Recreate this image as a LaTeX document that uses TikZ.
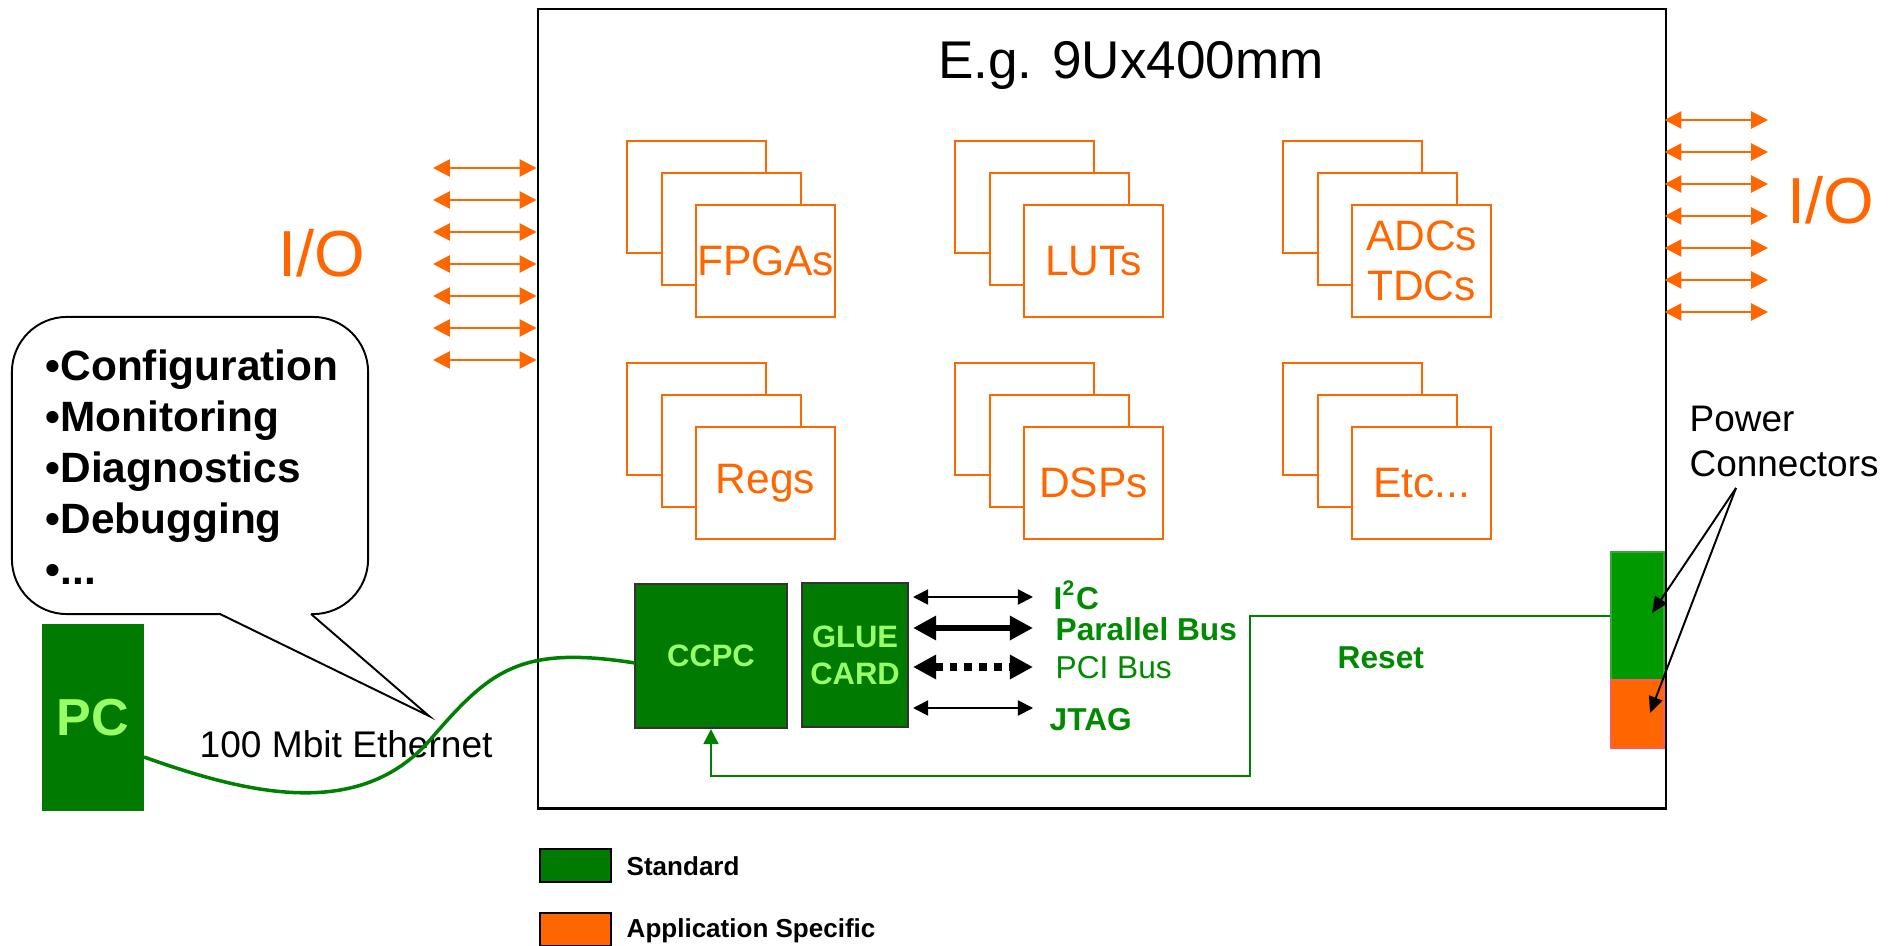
\documentclass[tikz,border=0pt]{standalone}
\usepackage{fontspec}
\setmainfont{Liberation Sans}
\usetikzlibrary{arrows.meta,calc}
\definecolor{dkgreen}{HTML}{007A00}
\definecolor{ltgreen}{HTML}{99FF66}
\definecolor{lblgreen}{HTML}{008A00}
\definecolor{pwgreen}{HTML}{009900}
\definecolor{pwedge}{HTML}{33AA33}
\definecolor{orng}{HTML}{FF6600}
\definecolor{pinkred}{HTML}{FF5A5A}
\definecolor{wiregreen}{HTML}{008000}
\newcommand{\myfs}[2]{\fontsize{#1}{#2}\selectfont}
\newcommand{\chipstack}[4]{%
  \node[chip] (#1a) at (#2,#3) {};
  \node[chip] (#1b) at (#2+34.5,#3+32) {};
  \node[chip] (#1c) at (#2+69,#3+64) {};
  \node[chiptext] (#1) at (#1c.center) {#4};
}
\begin{document}
\begin{tikzpicture}[x=0.01cm,y=-0.01cm,
  chip/.style={draw=orng, line width=0.6pt, fill=white, minimum width=1.39cm, minimum height=1.12cm, inner sep=0pt, anchor=north west},
  chiptext/.style={text=orng, font=\myfs{12.1}{14.2}, align=center, inner sep=0pt},
  ioarrow/.style={draw=orng, line width=0.8pt, <->, >={Triangle[length=4.8pt,width=4.8pt]}},
  thinbus/.style={draw=black, line width=0.5pt, <->, >={Triangle[length=4.3pt,width=4.3pt]}},
  thickbus/.style={draw=black, line width=1.7pt, <->, >={Triangle[length=6.6pt,width=6.6pt]}},
  dotbus/.style={draw=black, line width=2.2pt, dash pattern=on 2.2pt off 2pt, <->, >={Triangle[length=6.6pt,width=6.6pt]}},
  buslabel/.style={anchor=base west, inner sep=0pt, text=lblgreen, font=\bfseries\myfs{9}{10.5}},
  card/.style={fill=dkgreen, draw=black!80, line width=0.6pt, inner sep=0pt, text=ltgreen, font=\bfseries\myfs{8.8}{10.5}, align=center},
  ptr/.style={draw=black, line width=0.55pt, -{Triangle[length=4.6pt,width=4pt]}},
  legbox/.style={draw=black, line width=0.6pt, minimum width=0.71cm, minimum height=0.33cm, inner sep=0pt},
  legtext/.style={anchor=west, inner sep=0pt, font=\bfseries\myfs{7.4}{9}}
]
\useasboundingbox (0,0) rectangle (1897,946);

% board
\node[draw, line width=0.6pt, minimum width=11.28cm, minimum height=7.99cm, anchor=north west, inner sep=0pt] (board) at (536.5,8) {};
\node[anchor=base, inner sep=0pt, font=\myfs{15.1}{18}] (title) at (1131,79) {E.g. 9Ux400mm};

% I/O arrows
\foreach \yy [count=\i] in {168,200,232,264,296,328,360} {
  \coordinate (la\i) at (433,\yy);
  \coordinate (lb\i) at (536.5,\yy);
  \draw[ioarrow] (la\i) -- (lb\i);
}
\foreach \yy [count=\i] in {120,152,184,216,248,280,312} {
  \coordinate (ra\i) at (1664.5,\yy);
  \coordinate (rb\i) at (1768,\yy);
  \draw[ioarrow] (ra\i) -- (rb\i);
}
\node[text=orng, inner sep=0pt, font=\myfs{18.5}{22}] (iol) at (322,253) {I/O};
\node[text=orng, inner sep=0pt, font=\myfs{18.5}{22}] (ior) at (1831,200) {I/O};

% chip stacks
\chipstack{fpga}{626}{140}{FPGAs}
\chipstack{lut}{954}{140}{LUTs}
\chipstack{adc}{1282}{140}{ADCs\\TDCs}
\chipstack{reg}{626}{362}{Regs}
\chipstack{dsp}{954}{362}{DSPs}
\chipstack{etc}{1282}{362}{Etc...}

% speech bubble
\coordinate (tip) at (429,716);
\node[draw, line width=0.55pt, fill=white, rounded corners=0.55cm, minimum width=3.56cm, minimum height=2.97cm, inner sep=0pt] (bubble) at (190,465.5) {};
\fill[white] (221,610) -- (221,614) -- (tip) -- (311,614) -- (311,610) -- cycle;
\draw[line width=0.55pt] (220,614) -- (tip) -- (311,614);
\node[anchor=north west, align=left, inner sep=0pt, font=\bfseries\myfs{12.05}{14.5}] (bubtext) at (45,349) {•Configuration\\•Monitoring\\•Diagnostics\\•Debugging\\•...};

% PC and ethernet
\node[fill=dkgreen, minimum width=1.02cm, minimum height=1.87cm, inner sep=0pt, text=ltgreen, font=\bfseries\myfs{14.8}{17}] (pc) at (93,717.5) {PC};
\node[anchor=base west, inner sep=0pt, font=\myfs{10.55}{12.5}] (eth) at (199,757) {100 Mbit Ethernet};

% CCPC and glue card
\node[card, minimum width=1.52cm, minimum height=1.44cm] (ccpc) at (711,656) {CCPC};
\node[card, minimum width=1.06cm, minimum height=1.44cm] (glue) at (855,655) {GLUE\\CARD};

\coordinate (e0) at (144,757);
\coordinate (e1) at (635,663);
\draw[wiregreen, line width=1pt] (e0) .. controls (250,795) and (360,820) .. (430,740) .. controls (490,670) and (520,645) .. (e1);

% buses
\coordinate (b1l) at (913,597); \coordinate (b1r) at (1033,597);
\coordinate (b2l) at (913,628); \coordinate (b2r) at (1033,628);
\coordinate (b3l) at (913,667); \coordinate (b3r) at (1033,667);
\coordinate (b4l) at (913,708); \coordinate (b4r) at (1033,708);
\draw[thinbus] (b1l) -- (b1r);
\draw[thickbus] (b2l) -- (b2r);
\draw[dotbus] (b3l) -- (b3r);
\draw[thinbus] (b4l) -- (b4r);
\node[buslabel] (i2c) at (1053,609) {I\textsuperscript{\myfs{6}{7}2}C};
\node[buslabel] (par) at (1055,640) {Parallel Bus};
\node[buslabel, font=\myfs{9}{10.5}] (pci) at (1055,678) {PCI Bus};
\node[buslabel] (jtag) at (1049,730) {JTAG};

% power connectors
\node[fill=pwgreen, draw=pwedge, line width=0.4pt, minimum width=0.53cm, minimum height=1.28cm, inner sep=0pt] (pcg) at (1637.5,616) {};
\node[fill=orng, draw=pinkred, line width=0.4pt, minimum width=0.53cm, minimum height=0.68cm, inner sep=0pt] (pco) at (1637.5,714) {};
\node[anchor=north west, align=left, inner sep=0pt, font=\myfs{10.5}{12.8}] (pw) at (1689,405) {Power\\Connectors};
\coordinate (pwtip) at (1736,488);
\coordinate (pa1) at (1652,613);
\coordinate (pa2) at (1650,713);
\draw[ptr] (pwtip) -- (pa1);
\draw[ptr] (pwtip) -- (pa2);

% reset line
\coordinate (rs1) at (1250,776);
\draw[wiregreen, line width=0.6pt, -{Triangle[length=4.3pt,width=4.3pt]}] (pcg.west) -| (rs1) -- (ccpc.south |- rs1) -- (ccpc.south);
\node[buslabel] (reset) at (1337,668) {Reset};

% legend
\node[legbox, fill=dkgreen] (legstd) at (575.5,865.5) {};
\node[legbox, fill=orng] (legapp) at (575.5,929.5) {};
\node[legtext] (legstdt) at (626,866.5) {Standard};
\node[legtext] (legappt) at (626,930.5) {Application Specific};
\end{tikzpicture}
\end{document}
